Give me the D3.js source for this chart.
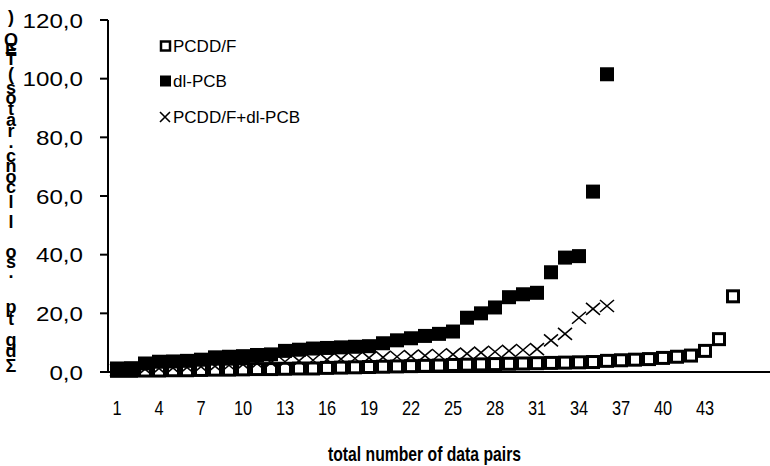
<!DOCTYPE html>
<html><head><meta charset="utf-8">
<script src="https://cdn.jsdelivr.net/npm/d3@7"></script>
<style>body{margin:0;background:#fff}svg{display:block}</style></head>
<body><svg id="c" width="770" height="466"></svg>
<script>
const categories = d3.range(1, 46);
const xTickLabels = [1, 4, 7, 10, 13, 16, 19, 22, 25, 28, 31, 34, 37, 40, 43];
const yTicks = [0, 20, 40, 60, 80, 100, 120];
const seriesNames = ["PCDD/F", "dl-PCB", "PCDD/F+dl-PCB"];
const pcddf = [0.4,0.4,0.5,0.5,0.6,0.6,0.7,0.8,0.8,0.9,1.0,1.0,1.1,1.2,1.2,1.4,1.5,1.6,1.7,1.8,1.9,2.0,2.1,2.2,2.4,2.5,2.6,2.7,2.8,2.9,3.0,3.1,3.2,3.3,3.4,3.8,4.0,4.2,4.4,4.8,5.2,5.6,7.2,11.2,25.8];
const dlpcb = [1.2,1.3,2.9,3.5,3.6,3.8,4.2,5.0,5.2,5.4,5.8,6.0,7.2,7.6,8.0,8.2,8.4,8.6,8.8,9.8,10.8,11.5,12.3,13.0,13.8,18.5,20.0,22.0,25.5,26.5,27.0,34.0,39.0,39.5,61.5,101.5];
const total = [0.6,0.8,1.0,1.2,1.4,1.6,1.8,2.0,2.3,2.6,2.9,3.2,3.5,3.8,4.0,4.2,4.4,4.6,4.8,5.0,5.2,5.4,5.6,5.8,6.0,6.3,6.6,6.9,7.2,7.5,7.8,10.8,13.0,18.5,21.5,22.5];
const yLabelText = ")QET(sotar.cnocllos.ptgdΣ";
const xTitle = "total number of data pairs";

const svg = d3.select("#c");
const x = d3.scaleBand().domain(categories).range([110, 110 + 45 * 14]).padding(0);
const y = d3.scaleLinear().domain([0, 120]).range([372, 20]);
const cx = d => x(d) + x.bandwidth() / 2;
const FONT = "Liberation Sans, Arial, sans-serif";

// axes lines
svg.append("line").attr("x1", 108).attr("x2", 108).attr("y1", y(120)).attr("y2", y(0)).attr("stroke", "#000").attr("stroke-width", 2);
svg.append("line").attr("x1", 100).attr("x2", 770).attr("y1", y(0)).attr("y2", y(0)).attr("stroke", "#000").attr("stroke-width", 2);
svg.selectAll(".yt").data(yTicks).join("line").attr("x1", 100).attr("x2", 108)
  .attr("y1", d => y(d)).attr("y2", d => y(d)).attr("stroke", "#000").attr("stroke-width", 2);
svg.selectAll(".ytl").data(yTicks).join("text")
  .attr("transform", d => `translate(83,${y(d) + 7.5}) scale(1.15,1)`)
  .attr("text-anchor", "end").attr("font-family", FONT).attr("font-size", 21)
  .text(d => d.toFixed(1).replace(".", ","));
svg.selectAll(".xtl").data(xTickLabels).join("text")
  .attr("transform", d => `translate(${cx(d)},415) scale(0.82,1)`)
  .attr("text-anchor", "middle").attr("font-family", FONT).attr("font-size", 20)
  .text(d => d);
svg.append("text").attr("x", 328).attr("y", 461)
  .attr("textLength", 193).attr("lengthAdjust", "spacingAndGlyphs")
  .attr("font-family", FONT).attr("font-weight", "bold").attr("font-size", 21)
  .text(xTitle);

// y label: stacked upright characters, read bottom to top
const ylPos = [0, 2.2, 3.1, 4, 5.4, 6.7, 7.7, 8.7, 9.7, 10.8, 11.8, 13.1, 14.1, 15.1, 16.1, 17.5, 19.4, 22.2, 23.2, 24.1, 27.4, 28.6, 30.5, 31.6, 33];
const ylY = d3.scaleLinear().domain([0, 33]).range([23, 372]);
svg.append("g").selectAll("text").data(yLabelText.split("")).join("text")
  .attr("x", 11).attr("y", (d, i) => ylY(ylPos[i])).attr("text-anchor", "middle")
  .attr("font-family", FONT).attr("font-weight", "bold").attr("font-size", 18)
  .text(d => d);

// series
const g = svg.append("g");
g.selectAll(".h").data(pcddf).join("rect")
  .attr("x", (d, i) => cx(categories[i]) - 5.5).attr("y", d => y(d) - 5.5)
  .attr("width", 11).attr("height", 11).attr("fill", "#fff").attr("stroke", "#000").attr("stroke-width", 3);
g.selectAll(".t").data(total).join("path")
  .attr("transform", (d, i) => `translate(${cx(categories[i])},${y(d)})`)
  .attr("d", "M-7,-6L7,6M-7,6L7,-6").attr("stroke", "#000").attr("stroke-width", 1.6).attr("fill", "none");
g.selectAll(".f").data(dlpcb).join("rect")
  .attr("x", (d, i) => cx(categories[i]) - 7).attr("y", d => y(d) - 7)
  .attr("width", 14).attr("height", 14).attr("fill", "#000");

// legend
const leg = svg.append("g");
const ly = [46, 81, 117];
leg.append("rect").attr("x", 161).attr("y", ly[0] - 4.5).attr("width", 9).attr("height", 9).attr("fill", "#fff").attr("stroke", "#000").attr("stroke-width", 2.5);
leg.append("rect").attr("x", 160).attr("y", ly[1] - 5.5).attr("width", 11).attr("height", 11).attr("fill", "#000");
leg.append("path").attr("transform", `translate(165,${ly[2]})`).attr("d", "M-5,-5L5,5M-5,5L5,-5").attr("stroke", "#000").attr("stroke-width", 1.6);
leg.selectAll("text").data(seriesNames).join("text").attr("x", 173).attr("y", (d, i) => ly[i] + 6)
  .attr("font-family", FONT).attr("font-size", 17).text(d => d);
</script></body></html>
